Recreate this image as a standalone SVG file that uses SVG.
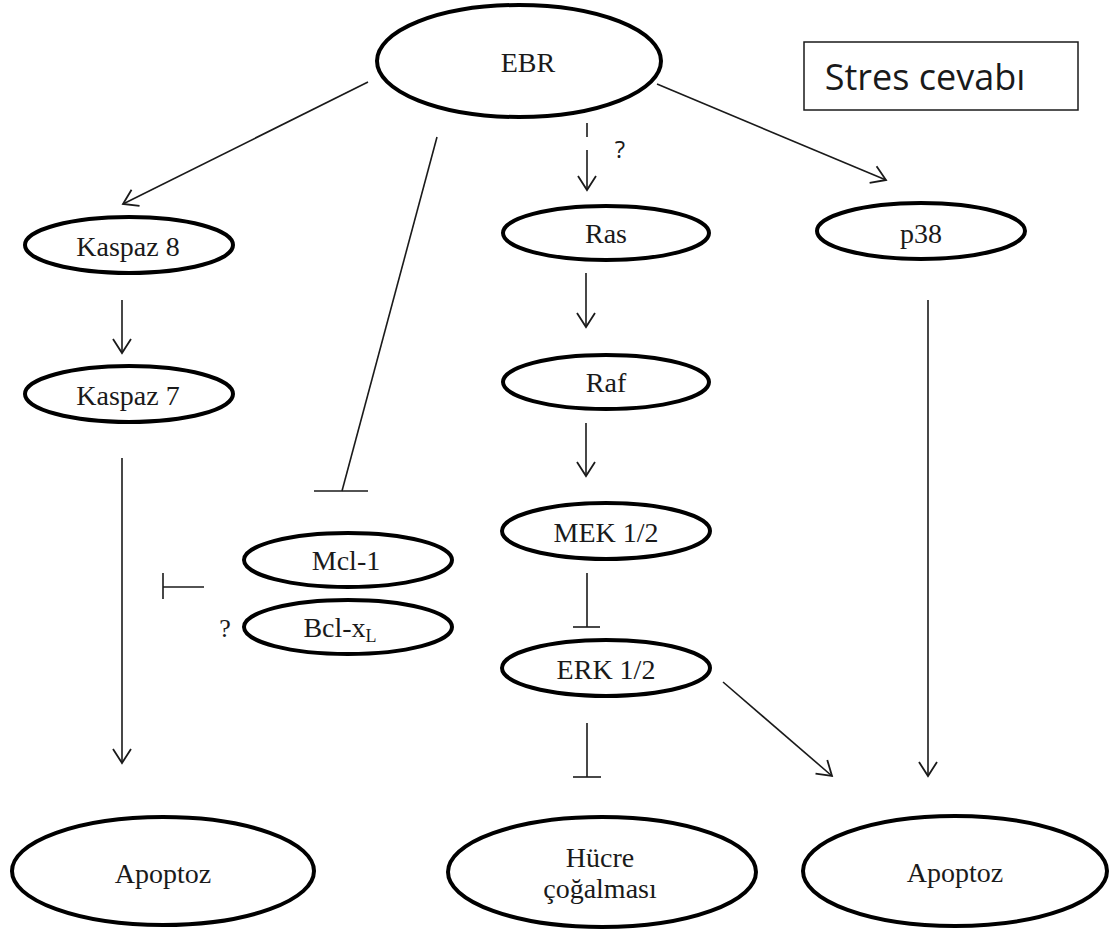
<svg xmlns="http://www.w3.org/2000/svg" width="1115" height="931" viewBox="0 0 1115 931">
<style>
.node{fill:#fff;stroke:#000;stroke-width:4}
.lbl{font-family:"Liberation Serif","Times New Roman",serif;font-size:28px;fill:#1a1a1a;text-anchor:middle}
.c{stroke:#1a1a1a;stroke-width:1.6;fill:none}
.arr{marker-end:url(#ah)}
</style>
<defs>
<marker id="ah" markerUnits="userSpaceOnUse" orient="auto" markerWidth="30" markerHeight="30" refX="0" refY="0" viewBox="-20 -15 25 30" overflow="visible">
<path d="M-14,-9 L0,0 L-14,9" fill="none" stroke="#1a1a1a" stroke-width="1.8"/>
</marker>
</defs>
<rect width="1115" height="931" fill="#fff"/>
<g id="connectors">
<line class="c arr" x1="368" y1="82" x2="123" y2="204"/>
<line class="c" x1="437" y1="137" x2="342" y2="491"/>
<line class="c" x1="314" y1="491" x2="368" y2="491"/>
<line class="c" x1="587" y1="123" x2="587" y2="137"/>
<line class="c arr" x1="587" y1="150" x2="587" y2="190"/>
<line class="c arr" x1="657" y1="84" x2="886" y2="180"/>
<line class="c arr" x1="122" y1="300" x2="122" y2="353"/>
<line class="c arr" x1="122" y1="458" x2="122" y2="763"/>
<line class="c" x1="163" y1="573" x2="163" y2="599"/>
<line class="c" x1="163" y1="587" x2="204" y2="587"/>
<line class="c arr" x1="586" y1="273" x2="586" y2="327"/>
<line class="c arr" x1="586" y1="423" x2="586" y2="476"/>
<line class="c" x1="587" y1="573" x2="587" y2="627"/>
<line class="c" x1="573" y1="627" x2="600" y2="627"/>
<line class="c" x1="587" y1="723" x2="587" y2="777"/>
<line class="c" x1="573" y1="777" x2="601" y2="777"/>
<line class="c arr" x1="723" y1="682" x2="832" y2="776"/>
<line class="c arr" x1="928" y1="300" x2="928" y2="776"/>
<text x="620" y="158" font-family="Open Sans, Liberation Sans, sans-serif" font-size="24" fill="#1a1a1a" text-anchor="middle">?</text>
<text x="225" y="637" font-family="Liberation Serif, serif" font-size="26" fill="#1a1a1a" text-anchor="middle">?</text>
</g>
<g id="ebr"><ellipse class="node" cx="519" cy="61" rx="142" ry="56"/><text class="lbl" x="528" y="72">EBR</text></g>
<g id="stres"><rect x="804" y="42" width="274" height="68" fill="#fff" stroke="#1a1a1a" stroke-width="1.5"/><text x="925" y="90" font-family="Open Sans, Liberation Sans, sans-serif" font-size="36" fill="#1a1a1a" text-anchor="middle">Stres cevabı</text></g>
<g id="kaspaz8"><ellipse class="node" cx="129" cy="245" rx="104" ry="28"/><text class="lbl" x="128" y="256">Kaspaz 8</text></g>
<g id="kaspaz7"><ellipse class="node" cx="129" cy="394" rx="104" ry="28"/><text class="lbl" x="128" y="405">Kaspaz 7</text></g>
<g id="apoptoz1"><ellipse class="node" cx="163" cy="871" rx="151" ry="54"/><text class="lbl" x="163" y="883">Apoptoz</text></g>
<g id="mcl1"><ellipse class="node" cx="348" cy="560" rx="104" ry="27"/><text class="lbl" x="346" y="570">Mcl-1</text></g>
<g id="bclxl"><ellipse class="node" cx="348" cy="627" rx="104" ry="27"/><text class="lbl" x="340" y="637">Bcl-x<tspan font-size="18" dy="5">L</tspan></text></g>
<g id="ras"><ellipse class="node" cx="606" cy="233" rx="103" ry="27"/><text class="lbl" x="606" y="243">Ras</text></g>
<g id="raf"><ellipse class="node" cx="606" cy="382" rx="103" ry="27"/><text class="lbl" x="606" y="392">Raf</text></g>
<g id="mek"><ellipse class="node" cx="606" cy="531" rx="104" ry="28"/><text class="lbl" x="606" y="542">MEK 1/2</text></g>
<g id="erk"><ellipse class="node" cx="606" cy="668" rx="104" ry="28"/><text class="lbl" x="606" y="679">ERK 1/2</text></g>
<g id="p38"><ellipse class="node" cx="921" cy="231" rx="104" ry="28"/><text class="lbl" x="921" y="243">p38</text></g>
<g id="hucre"><ellipse class="node" cx="602" cy="872" rx="154" ry="55"/><text class="lbl" x="600" y="867">Hücre</text><text class="lbl" x="600" y="898">çoğalması</text></g>
<g id="apoptoz2"><ellipse class="node" cx="955" cy="871" rx="152" ry="55"/><text class="lbl" x="955" y="882">Apoptoz</text></g>
</svg>
